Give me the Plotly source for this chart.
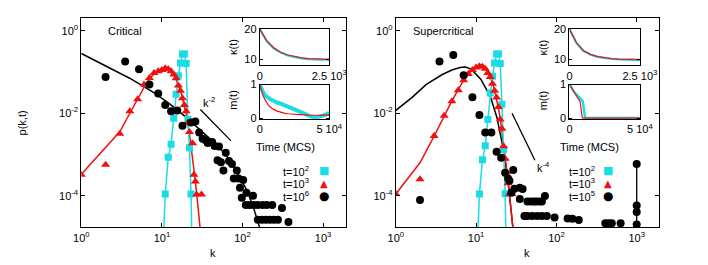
import plotly.graph_objects as go

W, H = 708, 265
CYAN = "#19dde6"
RED = "#f01010"
BLACK = "#000000"
FONT = "Liberation Sans, Arial, Helvetica, sans-serif"

# ---------------- Critical panel ----------------
crit_t2_k = [10, 11, 12, 13, 14, 15, 16, 17, 18, 19, 20, 21, 22, 23, 24]
crit_t2_p = [1e-6, 1.1e-4, 8.5e-4, 1.78e-3, 7.6e-3, 0.029, 0.081, 0.166, 0.275, 0.275,
             0.162, 7.1e-3, 1.45e-3, 1.1e-4, 1e-6]

crit_t3_k = [1, 2, 3, 4, 5, 6, 7, 8, 9, 10, 11, 12, 13, 14, 15, 16, 17, 18, 19, 20,
             21, 22, 24, 25, 26, 27, 31]
crit_t3_p = [3.2e-4, 5.6e-4, 3.2e-3, 0.0112, 0.0219, 0.050, 0.072, 0.095, 0.105, 0.112,
             0.123, 0.117, 0.105, 0.087, 0.071, 0.047, 0.035, 0.023, 0.0158, 0.0112,
             0.0060, 0.0035, 0.00186, 3.2e-4, 2.2e-4, 1.07e-4, 1.07e-4]
crit_t3_fit_k = [1, 2, 3, 4, 5, 6, 7, 8, 9, 10, 11, 12, 13, 14, 15, 16, 17, 18, 19, 20,
                 22, 24, 26, 28, 30]
crit_t3_fit_p = [3.3e-4, 1.51e-3, 3.55e-3, 0.0100, 0.0224, 0.0427, 0.0676, 0.0912, 0.107,
                 0.1175, 0.120, 0.115, 0.102, 0.0851, 0.0661, 0.049, 0.0347, 0.0234,
                 0.0151, 0.00955, 0.00316, 8.9e-4, 2.24e-4, 5.6e-5, 1.4e-5]

crit_t6_k = [2, 3.5, 5.2, 7, 9, 11, 13, 15.5, 18, 23, 26, 29, 32, 35, 37, 42, 45, 51, 62,
             49, 54, 68, 74, 58, 85, 89, 78, 102, 93, 112, 135, 98,
             110, 123, 138, 155, 178, 200, 234, 309,
             155, 174, 195, 219, 245, 275, 372]
crit_t6_p = [0.076, 0.18, 0.117, 0.050, 0.030, 0.0158, 0.0112, 0.0117, 0.0050, 0.0060,
             0.0063, 0.0034, 0.0024, 0.0022, 0.0019, 0.0020, 0.0016, 0.00155, 0.0011,
             7.2e-4, 6.5e-4, 6.9e-4, 5.9e-4, 4.1e-4, 4.1e-4, 2.6e-4, 2.6e-4, 2.4e-4,
             1.55e-4, 1.17e-4, 1.0e-4, 8.9e-5,
             5.9e-5, 5.9e-5, 5.9e-5, 5.9e-5, 5.9e-5, 5.9e-5, 5.9e-5, 5.0e-5,
             2.6e-5, 2.6e-5, 2.6e-5, 2.6e-5, 2.6e-5, 2.6e-5, 2.3e-5]
crit_t6_fit_k = [1, 2, 3.98, 7.94, 12.6, 20, 31.6, 50.1, 70.8, 89.1, 112, 135, 162, 180]
crit_t6_fit_p = [0.282, 0.141, 0.0708, 0.0316, 0.0166, 0.00794, 0.00355, 0.00158,
                 7.08e-4, 3.16e-4, 1.41e-4, 5.6e-5, 1.78e-5, 5e-6]
guide2_k = [30, 72]
guide2_p = [0.0123, 0.00214]

# ---------------- Supercritical panel ----------------
sup_t2_k = [10, 11, 12, 13, 14, 15, 16, 17, 18, 19, 20, 21, 22, 23, 24]
sup_t2_p = [1e-6, 1.1e-4, 7.4e-4, 1.62e-3, 7.1e-3, 0.031, 0.079, 0.166, 0.275, 0.275,
            0.162, 0.0166, 1.32e-3, 1.12e-4, 1e-6]

sup_t3_k = [1, 2, 3, 4, 5, 6, 7, 8, 9, 10, 11, 12, 13, 14, 15, 16, 17, 18, 19, 20, 21,
            22, 23, 24, 25, 26, 28]
sup_t3_p = [1.1e-4, 2.5e-4, 2.8e-3, 8.7e-3, 0.0195, 0.036, 0.063, 0.089, 0.112, 0.129,
            0.138, 0.135, 0.120, 0.095, 0.076, 0.052, 0.035, 0.024, 0.0141, 0.0071,
            0.0042, 0.00158, 7.9e-4, 3.7e-4, 2.0e-4, 1.1e-4, 1.1e-4]
sup_t3_fit_k = [1, 2, 3, 4, 5, 6, 7, 8, 9, 10, 11, 12, 13, 14, 15, 16, 17, 18, 19, 20,
                22, 24, 26, 28, 30]
sup_t3_fit_p = [1.1e-4, 6.3e-4, 2.8e-3, 8.9e-3, 0.020, 0.038, 0.063, 0.089, 0.112, 0.129,
                0.138, 0.135, 0.120, 0.100, 0.076, 0.054, 0.035, 0.0224, 0.0132, 0.0076,
                0.0020, 4.5e-4, 1.0e-4, 2.5e-5, 7.9e-6]

sup_t5_k = [2, 3.5, 5.2, 7, 9, 11, 13, 15.5, 18, 20.5, 29, 23, 25, 26, 30, 35, 38, 27.5,
            35, 43.6, 47.9, 52.5, 56.2, 61.7, 66, 72,
            40, 43.6, 50, 57.5, 66, 76, 95, 138, 158, 190, 407, 447, 490, 631]
sup_t5_p = [7.8e-5, 0.18, 0.26, 0.083, 0.0245, 0.0091, 0.0034, 0.0034, 0.00117, 8.3e-4,
            4.2e-4, 3.6e-4, 2.6e-4, 2.3e-4, 1.48e-4, 1.55e-4, 1.45e-4, 1.17e-4,
            8.3e-5, 7.2e-5, 7.2e-5, 7.2e-5, 7.2e-5, 7.2e-5, 7.2e-5, 9.8e-5,
            3.2e-5, 3.2e-5, 3.2e-5, 3.2e-5, 3.2e-5, 3.2e-5, 2.95e-5, 2.8e-5, 2.75e-5,
            2.57e-5, 2.14e-5, 2.14e-5, 2.14e-5, 2.14e-5]
sup_t5_cond_k = [1000, 1000, 1000, 1000]
sup_t5_cond_p = [5.9e-4, 5.75e-5, 4.0e-5, 2.0e-5]
sup_t5_fit_k = [1, 1.585, 2.4, 3.8, 5.0, 6.3, 7.4, 8.7, 11.5, 15.1, 18.2, 21.9, 25.1,
                28.8, 30.2]
sup_t5_fit_p = [0.0117, 0.024, 0.050, 0.087, 0.112, 0.129, 0.132, 0.1175, 0.066, 0.025,
                0.0078, 0.00132, 2.2e-4, 1.8e-5, 6.3e-6]
guide4_k = [28, 54]
guide4_p = [0.0100, 7.2e-4]

# ---------------- Insets ----------------
kappa_t = [0, 250, 500, 750, 1000, 1250, 1500, 1750, 2000, 2250, 2500]
crit_kappa_red = [20, 16.2, 13.9, 12.4, 11.5, 10.9, 10.55, 10.3, 10.18, 10.1, 10.05]
crit_kappa_cyan = [20, 16.0, 13.7, 12.3, 11.4, 10.8, 10.4, 10.15, 10.0, 9.95, 9.95]
sup_kappa_red = [20, 15.5, 12.9, 11.7, 11.0, 10.6, 10.3, 10.15, 10.05, 10.0, 10.0]
sup_kappa_cyan = [20, 15.4, 12.8, 11.6, 10.9, 10.5, 10.2, 10.05, 9.95, 9.95, 9.9]

crit_m_cyan_t = [0, 1250, 2500, 3750, 5000, 6250, 7500, 8750, 10000, 11250, 12500, 13750,
                 15000, 16250, 17500, 18750, 20000, 21250, 22500, 23750, 25000, 26250,
                 27500, 28750, 30000, 31250, 32500, 33750, 35000, 36250, 37500, 38750,
                 40000, 41250, 42500, 43750, 45000, 46250, 47500, 48750, 50000]
crit_m_cyan = [1.0, 0.86, 0.76, 0.68, 0.63, 0.60, 0.56, 0.54, 0.50, 0.49, 0.46, 0.46,
               0.43, 0.41, 0.38, 0.36, 0.35, 0.33, 0.31, 0.30, 0.27, 0.25, 0.24, 0.21,
               0.19, 0.16, 0.13, 0.10, 0.07, 0.05, 0.04, 0.02, 0.02, 0.03, 0.02, 0.05,
               0.07, 0.08, 0.11, 0.13, 0.16]
crit_m_red_t = [0, 1250, 2500, 3750, 5000, 6250, 7500, 8750, 10000, 12500, 15000, 17500,
                20000, 25000, 30000, 35000, 40000, 45000, 50000]
crit_m_red = [1.0, 0.8, 0.66, 0.55, 0.46, 0.39, 0.33, 0.29, 0.26, 0.21, 0.17, 0.15,
              0.13, 0.11, 0.095, 0.09, 0.085, 0.085, 0.09]

sup_m_red_t = [0, 1000, 2000, 3000, 4000, 5000, 6000, 7000, 7500, 8000, 8500, 9000,
               9500, 50000]
sup_m_red = [1.0, 0.93, 0.85, 0.78, 0.72, 0.66, 0.60, 0.54, 0.50, 0.35, 0.15, 0.03,
             0.0, 0.0]
sup_m_cyan_t = [0, 1000, 2000, 3000, 4000, 5000, 6000, 7000, 8000, 9000, 9500, 10000,
                10500, 11000, 11500, 50000]
sup_m_cyan = [1.0, 0.95, 0.88, 0.80, 0.74, 0.70, 0.66, 0.62, 0.58, 0.55, 0.50, 0.35,
              0.15, 0.03, 0.0, 0.0]

# ---------------- Layout helpers (pixel -> paper) ----------------
def fx(px):
    return px / W

def fy(py):
    return 1 - py / H

fig = go.Figure()

def add(x, y, xa, ya, mode, color, width=1.5, symbol=None, size=7):
    kw = dict(x=x, y=y, xaxis=xa, yaxis=ya, mode=mode, showlegend=False,
              hoverinfo="skip")
    if "lines" in mode:
        kw["line"] = dict(color=color, width=width)
    if "markers" in mode:
        kw["marker"] = dict(color=color, symbol=symbol, size=size, line=dict(width=0))
    fig.add_trace(go.Scatter(**kw))

# Critical
add(crit_t6_fit_k, crit_t6_fit_p, "x", "y", "lines", BLACK, 1.5)
add(crit_t3_fit_k, crit_t3_fit_p, "x", "y", "lines", RED, 1.5)
add(crit_t2_k, crit_t2_p, "x", "y", "lines+markers", CYAN, 1.5, "square", 7)
add(crit_t3_k, crit_t3_p, "x", "y", "markers", RED, symbol="triangle-up", size=8)
add(crit_t6_k, crit_t6_p, "x", "y", "markers", BLACK, symbol="circle", size=8)
add(guide2_k, guide2_p, "x", "y", "lines", BLACK, 1.3)

# Supercritical
add(sup_t5_fit_k, sup_t5_fit_p, "x2", "y2", "lines", BLACK, 1.5)
add(sup_t3_fit_k, sup_t3_fit_p, "x2", "y2", "lines", RED, 1.5)
add(sup_t2_k, sup_t2_p, "x2", "y2", "lines+markers", CYAN, 1.5, "square", 7)
add(sup_t3_k, sup_t3_p, "x2", "y2", "markers", RED, symbol="triangle-up", size=8)
add(sup_t5_k, sup_t5_p, "x2", "y2", "markers", BLACK, symbol="circle", size=8)
add(sup_t5_cond_k + [sup_t5_cond_k[-1]], sup_t5_cond_p + [1e-6], "x2", "y2", "lines", BLACK, 1.3)
add(sup_t5_cond_k, sup_t5_cond_p, "x2", "y2", "markers", BLACK, symbol="circle", size=8)
add(guide4_k, guide4_p, "x2", "y2", "lines", BLACK, 1.3)

# Insets
add(kappa_t, crit_kappa_cyan, "x3", "y3", "lines", CYAN, 2.2)
add(kappa_t, crit_kappa_red, "x3", "y3", "lines", RED, 1.2)
add(crit_m_cyan_t, crit_m_cyan, "x4", "y4", "lines", CYAN, 4)
add(crit_m_red_t, crit_m_red, "x4", "y4", "lines", RED, 1.2)
add(kappa_t, sup_kappa_cyan, "x5", "y5", "lines", CYAN, 2.2)
add(kappa_t, sup_kappa_red, "x5", "y5", "lines", RED, 1.2)
add(sup_m_cyan_t, sup_m_cyan, "x6", "y6", "lines", CYAN, 2.5)
add(sup_m_red_t, sup_m_red, "x6", "y6", "lines", RED, 1.2)

tick_font = dict(family=FONT, size=11, color="black")

def axis_style(**kw):
    d = dict(showline=True, mirror="allticks", linecolor="black", linewidth=1,
             ticks="inside", ticklen=4, tickcolor="black", tickwidth=1,
             showgrid=False, zeroline=False, tickfont=tick_font, tickmode="array",
             fixedrange=True)
    d.update(kw)
    return d

dec_x_vals = [1, 10, 100, 1000]
dec_x_text = ["10<sup>0</sup>", "10<sup>1</sup>", "10<sup>2</sup>", "10<sup>3</sup>"]
dec_y_vals = [1e-4, 1e-2, 1]
dec_y_text = ["10<sup>-4</sup>", "10<sup>-2</sup>", "10<sup>0</sup>"]

main_y_dom = [fy(231), fy(13)]
kap_y_dom = [fy(62), fy(24)]
m_y_dom = [fy(118), fy(82)]
xr = [0, 3.28]
yr = [-4.77, 0.30]

fig.update_layout(
    width=W, height=H, autosize=False,
    margin=dict(l=0, r=0, t=0, b=0),
    paper_bgcolor="white", plot_bgcolor="white",
    font=dict(family=FONT, size=11, color="black"),
    hovermode=False,
    xaxis=axis_style(type="log", range=xr, domain=[fx(76), fx(350)], anchor="y",
                     tickvals=dec_x_vals, ticktext=dec_x_text),
    yaxis=axis_style(type="log", range=yr, domain=main_y_dom, anchor="x",
                     tickvals=dec_y_vals, ticktext=dec_y_text),
    xaxis2=axis_style(type="log", range=xr, domain=[fx(402), fx(675)], anchor="y2",
                      tickvals=dec_x_vals, ticktext=dec_x_text),
    yaxis2=axis_style(type="log", range=yr, domain=main_y_dom, anchor="x2",
                      tickvals=dec_y_vals, ticktext=dec_y_text),
    xaxis3=axis_style(range=[0, 2500], domain=[fx(261), fx(333)], anchor="y3",
                      tickvals=[0, 2500], ticktext=["0", "2.5 10<sup>3</sup>"], ticklen=3),
    yaxis3=axis_style(range=[8.1, 20], domain=kap_y_dom, anchor="x3",
                      tickvals=[10, 20], ticktext=["10", "20"], ticklen=3),
    xaxis4=axis_style(range=[0, 50000], domain=[fx(261), fx(333)], anchor="y4",
                      tickvals=[0, 50000], ticktext=["0", "5 10<sup>4</sup>"], ticklen=3),
    yaxis4=axis_style(range=[-0.03, 1.0], domain=m_y_dom, anchor="x4",
                      tickvals=[0, 1], ticktext=["0", "1"], ticklen=3),
    xaxis5=axis_style(range=[0, 2500], domain=[fx(582), fx(655)], anchor="y5",
                      tickvals=[0, 2500], ticktext=["0", "2.5 10<sup>3</sup>"], ticklen=3),
    yaxis5=axis_style(range=[8.1, 20], domain=kap_y_dom, anchor="x5",
                      tickvals=[10, 20], ticktext=["10", "20"], ticklen=3),
    xaxis6=axis_style(range=[0, 50000], domain=[fx(582), fx(655)], anchor="y6",
                      tickvals=[0, 50000], ticktext=["0", "5 10<sup>4</sup>"], ticklen=3),
    yaxis6=axis_style(range=[-0.03, 1.0], domain=m_y_dom, anchor="x6",
                      tickvals=[0, 1], ticktext=["0", "1"], ticklen=3),
)

ann = []

def text(px, py, s, xanchor="center", angle=0, size=11, color="black", family=FONT):
    ann.append(dict(x=fx(px), y=fy(py), xref="paper", yref="paper", text=s,
                    showarrow=False, xanchor=xanchor, yanchor="middle",
                    textangle=angle, font=dict(family=family, size=size, color=color)))

text(102, 26, "Critical", "left")
text(418, 26, "Supercritical", "left")
text(14, 122, "p(k,t)", angle=-90)
text(213, 258, "k")
text(538, 258, "k")
text(233, 43, "κ(t)", angle=-90)
text(233, 98, "m(t)", angle=-90)
text(555, 43, "κ(t)", angle=-90)
text(555, 98, "m(t)", angle=-90)
text(288, 147, "Time (MCS)")
text(603, 147, "Time (MCS)")

# power-law guide labels (data coordinates)
ann.append(dict(x=1.58, y=-1.72, xref="x", yref="y", text="k<sup>-2</sup>",
                showarrow=False, font=dict(family=FONT, size=11)))
ann.append(dict(x=1.84, y=-3.30, xref="x2", yref="y2", text="k<sup>-4</sup>",
                showarrow=False, font=dict(family=FONT, size=11)))

# legends (text + glyph)
legend_left = ["t=10<sup>2</sup>", "t=10<sup>3</sup>", "t=10<sup>6</sup>"]
legend_right = ["t=10<sup>2</sup>", "t=10<sup>3</sup>", "t=10<sup>5</sup>"]
glyphs = [("■", CYAN, 11), ("▲", RED, 10), ("●", BLACK, 12)]
rows = [172, 185, 198]
for labels, tx, gx in [(legend_left, 314, 328), (legend_right, 611, 622)]:
    for lab, py, (g, c, s) in zip(labels, rows, glyphs):
        text(tx, py, lab, "right")
        text(gx, py, g, size=s, color=c, family="DejaVu Sans")

fig.update_layout(annotations=ann)
fig.write_html(
    "out.html",
    config={"displayModeBar": False, "staticPlot": True},
    post_script="document.body.style.margin='0';document.body.style.overflow='hidden';",
)
